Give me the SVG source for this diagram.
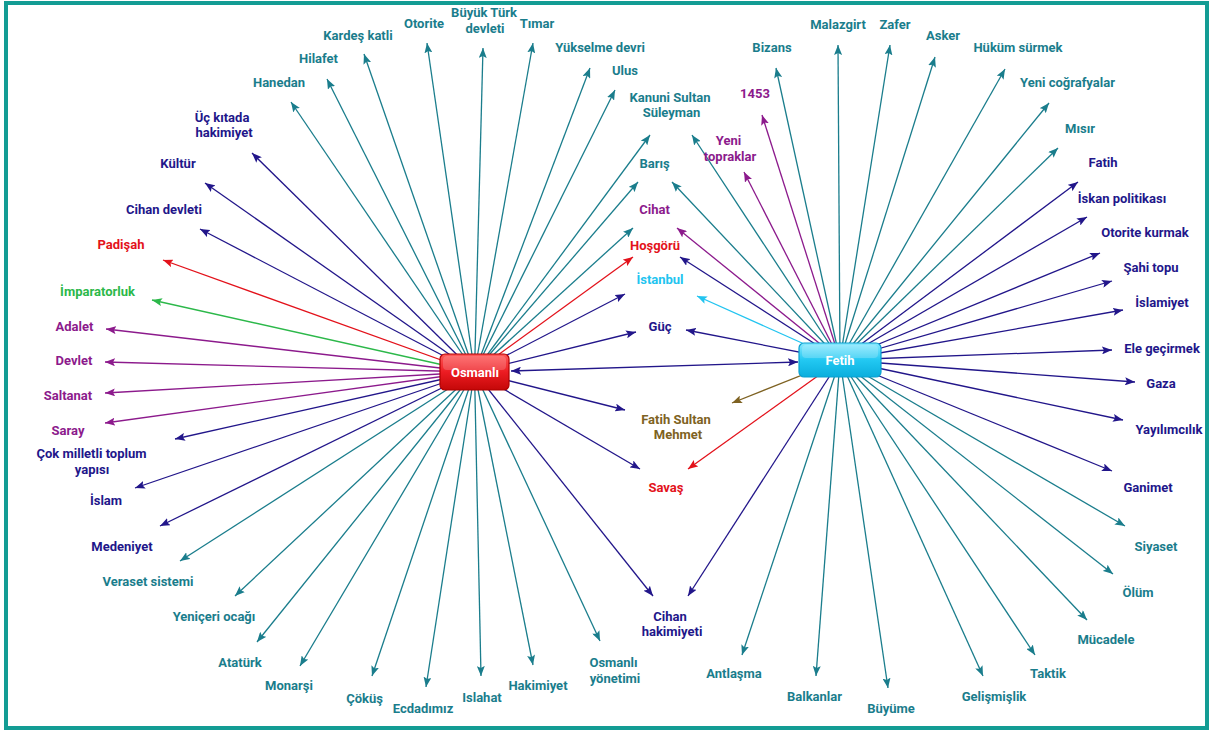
<svg xmlns="http://www.w3.org/2000/svg" width="1211" height="733" viewBox="0 0 1211 733">
<style>
.t{font-family:Roboto,"Liberation Sans",sans-serif;font-weight:700;font-size:13px;text-anchor:middle}
.teal{fill:#1a7d8c}.navy{fill:#22168a}.purple{fill:#8c1a8c}.red{fill:#e3121b}.green{fill:#2cb84a}.cyan{fill:#22c4f0}.olive{fill:#7e6222}
.c line{stroke-width:1.3;fill:none}
.lt{stroke:#1a7d8c;marker-end:url(#mt)}.ln{stroke:#22168a;marker-end:url(#mn)}.lp{stroke:#8c1a8c;marker-end:url(#mp)}.lr{stroke:#e3121b;marker-end:url(#mr)}.lg{stroke:#2cb84a;marker-end:url(#mg)}.lc{stroke:#22c4f0;marker-end:url(#mc)}.lo{stroke:#7e6222;marker-end:url(#mo)}
.nt{font-family:Roboto,"Liberation Sans",sans-serif;font-weight:700;font-size:13px;text-anchor:middle;fill:#fff}
</style>
<defs>
<marker id="mt" markerUnits="userSpaceOnUse" markerWidth="10" markerHeight="8" refX="10" refY="4" orient="auto"><path d="M0,0L10,4L0,8L2,4Z" fill="#1a7d8c"/></marker>
<marker id="mn" markerUnits="userSpaceOnUse" markerWidth="10" markerHeight="8" refX="10" refY="4" orient="auto-start-reverse"><path d="M0,0L10,4L0,8L2,4Z" fill="#22168a"/></marker>
<marker id="mp" markerUnits="userSpaceOnUse" markerWidth="10" markerHeight="8" refX="10" refY="4" orient="auto"><path d="M0,0L10,4L0,8L2,4Z" fill="#8c1a8c"/></marker>
<marker id="mr" markerUnits="userSpaceOnUse" markerWidth="10" markerHeight="8" refX="10" refY="4" orient="auto"><path d="M0,0L10,4L0,8L2,4Z" fill="#e3121b"/></marker>
<marker id="mg" markerUnits="userSpaceOnUse" markerWidth="10" markerHeight="8" refX="10" refY="4" orient="auto"><path d="M0,0L10,4L0,8L2,4Z" fill="#2cb84a"/></marker>
<marker id="mc" markerUnits="userSpaceOnUse" markerWidth="10" markerHeight="8" refX="10" refY="4" orient="auto"><path d="M0,0L10,4L0,8L2,4Z" fill="#22c4f0"/></marker>
<marker id="mo" markerUnits="userSpaceOnUse" markerWidth="10" markerHeight="8" refX="10" refY="4" orient="auto"><path d="M0,0L10,4L0,8L2,4Z" fill="#7e6222"/></marker>
<linearGradient id="gr" x1="0" y1="0" x2="0" y2="1"><stop offset="0" stop-color="#ff5a5a"/><stop offset="0.5" stop-color="#ec1c22"/><stop offset="1" stop-color="#c40808"/></linearGradient>
<linearGradient id="gc" x1="0" y1="0" x2="0" y2="1"><stop offset="0" stop-color="#8ae9ff"/><stop offset="0.5" stop-color="#22c8f2"/><stop offset="1" stop-color="#0aaedd"/></linearGradient>
</defs>
<rect width="1211" height="733" fill="#fff"/>
<rect x="6" y="3" width="1201" height="725" fill="none" stroke="#139c94" stroke-width="4"/>
<g id="connectors" class="c">
<line class="lt" x1="474.5" y1="372" x2="291" y2="102"/>
<line class="lt" x1="474.5" y1="372" x2="327" y2="79"/>
<line class="lt" x1="474.5" y1="372" x2="364" y2="54"/>
<line class="lt" x1="474.5" y1="372" x2="427" y2="43"/>
<line class="lt" x1="474.5" y1="372" x2="483" y2="48"/>
<line class="lt" x1="474.5" y1="372" x2="533" y2="43"/>
<line class="lt" x1="474.5" y1="372" x2="590" y2="68"/>
<line class="lt" x1="474.5" y1="372" x2="615" y2="90"/>
<line class="lt" x1="474.5" y1="372" x2="650" y2="135"/>
<line class="lt" x1="474.5" y1="372" x2="638" y2="182"/>
<line class="lt" x1="474.5" y1="372" x2="633" y2="228"/>
<line class="lr" x1="474.5" y1="372" x2="633" y2="257"/>
<line class="ln" x1="474.5" y1="372" x2="625" y2="294"/>
<line class="ln" x1="474.5" y1="372" x2="636" y2="332"/>
<line class="ln" x1="474.5" y1="372" x2="625" y2="410"/>
<line class="ln" x1="474.5" y1="372" x2="640" y2="469"/>
<line class="ln" x1="474.5" y1="372" x2="653" y2="596"/>
<line class="lt" x1="474.5" y1="372" x2="600" y2="641"/>
<line class="lt" x1="474.5" y1="372" x2="533" y2="665"/>
<line class="lt" x1="474.5" y1="372" x2="481" y2="676"/>
<line class="lt" x1="474.5" y1="372" x2="426" y2="687"/>
<line class="lt" x1="474.5" y1="372" x2="372" y2="676"/>
<line class="lt" x1="474.5" y1="372" x2="300" y2="666"/>
<line class="lt" x1="474.5" y1="372" x2="257" y2="642"/>
<line class="lt" x1="474.5" y1="372" x2="235" y2="596"/>
<line class="lt" x1="474.5" y1="372" x2="180" y2="561"/>
<line class="ln" x1="474.5" y1="372" x2="160" y2="526"/>
<line class="ln" x1="474.5" y1="372" x2="135" y2="488"/>
<line class="ln" x1="474.5" y1="372" x2="175" y2="439"/>
<line class="lp" x1="474.5" y1="372" x2="105" y2="423"/>
<line class="lp" x1="474.5" y1="372" x2="105" y2="393"/>
<line class="lp" x1="474.5" y1="372" x2="105" y2="362"/>
<line class="lp" x1="474.5" y1="372" x2="106" y2="329"/>
<line class="lg" x1="474.5" y1="372" x2="152" y2="300"/>
<line class="lr" x1="474.5" y1="372" x2="163" y2="260"/>
<line class="ln" x1="474.5" y1="372" x2="200" y2="229"/>
<line class="ln" x1="474.5" y1="372" x2="205" y2="183"/>
<line class="ln" x1="474.5" y1="372" x2="252" y2="153"/>
<line class="lt" x1="840" y1="360" x2="692" y2="135"/>
<line class="lt" x1="840" y1="360" x2="672" y2="182"/>
<line class="lp" x1="840" y1="360" x2="677" y2="228"/>
<line class="ln" x1="840" y1="360" x2="680" y2="257"/>
<line class="lc" x1="840" y1="360" x2="697" y2="296"/>
<line class="ln" x1="840" y1="360" x2="686" y2="330"/>
<line class="lo" x1="840" y1="360" x2="732" y2="403"/>
<line class="lr" x1="840" y1="360" x2="688" y2="469"/>
<line class="ln" x1="840" y1="360" x2="688" y2="596"/>
<line class="lt" x1="840" y1="360" x2="742" y2="655"/>
<line class="lt" x1="840" y1="360" x2="816" y2="676"/>
<line class="lt" x1="840" y1="360" x2="888" y2="688"/>
<line class="lt" x1="840" y1="360" x2="983" y2="676"/>
<line class="lt" x1="840" y1="360" x2="1035" y2="655"/>
<line class="lt" x1="840" y1="360" x2="1087" y2="620"/>
<line class="lt" x1="840" y1="360" x2="1113" y2="574"/>
<line class="lt" x1="840" y1="360" x2="1125" y2="526"/>
<line class="ln" x1="840" y1="360" x2="1112" y2="471"/>
<line class="ln" x1="840" y1="360" x2="1123" y2="420"/>
<line class="ln" x1="840" y1="360" x2="1135" y2="382"/>
<line class="ln" x1="840" y1="360" x2="1112" y2="350"/>
<line class="ln" x1="840" y1="360" x2="1123" y2="310"/>
<line class="ln" x1="840" y1="360" x2="1112" y2="281"/>
<line class="ln" x1="840" y1="360" x2="1100" y2="253"/>
<line class="ln" x1="840" y1="360" x2="1087" y2="217"/>
<line class="ln" x1="840" y1="360" x2="1078" y2="182"/>
<line class="lt" x1="840" y1="360" x2="1058" y2="148"/>
<line class="lt" x1="840" y1="360" x2="1049" y2="103"/>
<line class="lt" x1="840" y1="360" x2="1005" y2="69"/>
<line class="lt" x1="840" y1="360" x2="935" y2="57"/>
<line class="lt" x1="840" y1="360" x2="890" y2="45"/>
<line class="lt" x1="840" y1="360" x2="838" y2="45"/>
<line class="lt" x1="840" y1="360" x2="776" y2="68"/>
<line class="lp" x1="840" y1="360" x2="762" y2="115"/>
<line class="lp" x1="840" y1="360" x2="744" y2="172"/>
<line class="ln" x1="511" y1="371" x2="798" y2="362" marker-start="url(#mn)"/>
</g>
<g id="osmanli">
<rect x="440" y="354" width="69" height="36" rx="5" fill="url(#gr)" stroke="#b00000" stroke-width="1.2"/>
<rect x="443" y="356" width="63" height="14" rx="4" fill="#fff" opacity="0.18"/>
<text class="nt" x="475" y="377">Osmanlı</text>
</g>
<g id="fetih">
<rect x="799" y="343" width="82" height="34" rx="5" fill="url(#gc)" stroke="#0b9fcf" stroke-width="1.2"/>
<rect x="802" y="345" width="76" height="13" rx="4" fill="#fff" opacity="0.2"/>
<text class="nt" x="840" y="365">Fetih</text>
</g>
<g id="labels">
<g id="n-hanedan"><text class="t teal" x="279" y="87">Hanedan</text></g>
<g id="n-hilafet"><text class="t teal" x="318.5" y="63">Hilafet</text></g>
<g id="n-kardes"><text class="t teal" x="358" y="40">Kardeş katli</text></g>
<g id="n-otorite"><text class="t teal" x="424" y="28">Otorite</text></g>
<g id="n-buyuk"><text class="t teal" x="484" y="17">Büyük Türk</text><text class="t teal" x="485" y="33">devleti</text></g>
<g id="n-timar"><text class="t teal" x="537" y="28">Tımar</text></g>
<g id="n-yukselme"><text class="t teal" x="600" y="52">Yükselme devri</text></g>
<g id="n-ulus"><text class="t teal" x="625" y="75">Ulus</text></g>
<g id="n-kanuni"><text class="t teal" x="670" y="102">Kanuni Sultan</text><text class="t teal" x="671.5" y="117">Süleyman</text></g>
<g id="n-baris"><text class="t teal" x="654.5" y="168">Barış</text></g>
<g id="n-cihat"><text class="t purple" x="654.5" y="214">Cihat</text></g>
<g id="n-hosgoru"><text class="t red" x="655" y="250">Hoşgörü</text></g>
<g id="n-istanbul"><text class="t cyan" x="660" y="284">İstanbul</text></g>
<g id="n-guc"><text class="t navy" x="660" y="331">Güç</text></g>
<g id="n-fsm"><text class="t olive" x="676" y="424">Fatih Sultan</text><text class="t olive" x="678" y="439">Mehmet</text></g>
<g id="n-savas"><text class="t red" x="666" y="492">Savaş</text></g>
<g id="n-cihanhak"><text class="t navy" x="670" y="621">Cihan</text><text class="t navy" x="672" y="636">hakimiyeti</text></g>
<g id="n-osmyon"><text class="t teal" x="613.5" y="667">Osmanlı</text><text class="t teal" x="615" y="683">yönetimi</text></g>
<g id="n-hakimiyet"><text class="t teal" x="538" y="690">Hakimiyet</text></g>
<g id="n-islahat"><text class="t teal" x="482" y="702">Islahat</text></g>
<g id="n-ecdad"><text class="t teal" x="423" y="713">Ecdadımız</text></g>
<g id="n-cokus"><text class="t teal" x="364.5" y="703">Çöküş</text></g>
<g id="n-monarsi"><text class="t teal" x="289" y="690">Monarşi</text></g>
<g id="n-ataturk"><text class="t teal" x="240" y="667">Atatürk</text></g>
<g id="n-yeniceri"><text class="t teal" x="214" y="621">Yeniçeri ocağı</text></g>
<g id="n-veraset"><text class="t teal" x="148" y="586">Veraset sistemi</text></g>
<g id="n-medeniyet"><text class="t navy" x="122" y="551">Medeniyet</text></g>
<g id="n-islam"><text class="t navy" x="106" y="505">İslam</text></g>
<g id="n-cokmil"><text class="t navy" x="91.5" y="458">Çok milletli toplum</text><text class="t navy" x="92" y="474">yapısı</text></g>
<g id="n-saray"><text class="t purple" x="68" y="435">Saray</text></g>
<g id="n-saltanat"><text class="t purple" x="68" y="400">Saltanat</text></g>
<g id="n-devlet"><text class="t purple" x="74" y="365">Devlet</text></g>
<g id="n-adalet"><text class="t purple" x="74.5" y="331">Adalet</text></g>
<g id="n-imparatorluk"><text class="t green" x="97.5" y="296">İmparatorluk</text></g>
<g id="n-padisah"><text class="t red" x="121" y="249">Padişah</text></g>
<g id="n-cihandev"><text class="t navy" x="164" y="214">Cihan devleti</text></g>
<g id="n-kultur"><text class="t navy" x="178" y="168">Kültür</text></g>
<g id="n-uckita"><text class="t navy" x="222" y="122">Üç kıtada</text><text class="t navy" x="224" y="137">hakimiyet</text></g>
<g id="n-bizans"><text class="t teal" x="772" y="52">Bizans</text></g>
<g id="n-1453"><text class="t purple" x="755" y="98">1453</text></g>
<g id="n-yenitop"><text class="t purple" x="728.5" y="145">Yeni</text><text class="t purple" x="730" y="161">topraklar</text></g>
<g id="n-malazgirt"><text class="t teal" x="838" y="29">Malazgirt</text></g>
<g id="n-zafer"><text class="t teal" x="895" y="29">Zafer</text></g>
<g id="n-asker"><text class="t teal" x="943" y="40">Asker</text></g>
<g id="n-hukum"><text class="t teal" x="1018" y="52">Hüküm sürmek</text></g>
<g id="n-yenicog"><text class="t teal" x="1067.5" y="87">Yeni coğrafyalar</text></g>
<g id="n-misir"><text class="t teal" x="1080" y="133">Mısır</text></g>
<g id="n-fatih"><text class="t navy" x="1103" y="167">Fatih</text></g>
<g id="n-iskan"><text class="t navy" x="1122" y="203">İskan politikası</text></g>
<g id="n-otoritek"><text class="t navy" x="1145" y="237">Otorite kurmak</text></g>
<g id="n-sahi"><text class="t navy" x="1151" y="272">Şahi topu</text></g>
<g id="n-islamiyet"><text class="t navy" x="1162" y="307">İslamiyet</text></g>
<g id="n-ele"><text class="t navy" x="1162" y="353">Ele geçirmek</text></g>
<g id="n-gaza"><text class="t navy" x="1161" y="388">Gaza</text></g>
<g id="n-yayilim"><text class="t navy" x="1169" y="434">Yayılımcılık</text></g>
<g id="n-ganimet"><text class="t navy" x="1148" y="492">Ganimet</text></g>
<g id="n-siyaset"><text class="t teal" x="1156" y="551">Siyaset</text></g>
<g id="n-olum"><text class="t teal" x="1138" y="597">Ölüm</text></g>
<g id="n-mucadele"><text class="t teal" x="1106" y="644">Mücadele</text></g>
<g id="n-taktik"><text class="t teal" x="1048" y="678">Taktik</text></g>
<g id="n-gelismis"><text class="t teal" x="994" y="701">Gelişmişlik</text></g>
<g id="n-buyume"><text class="t teal" x="891" y="713">Büyüme</text></g>
<g id="n-balkanlar"><text class="t teal" x="814.5" y="701">Balkanlar</text></g>
<g id="n-antlasma"><text class="t teal" x="734" y="678">Antlaşma</text></g>
</g>
</svg>
